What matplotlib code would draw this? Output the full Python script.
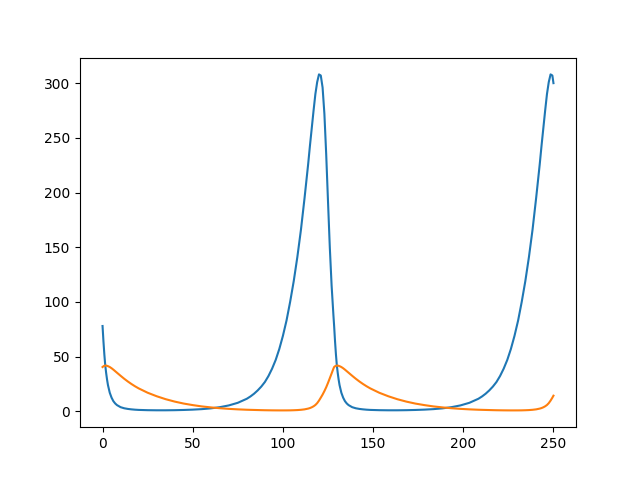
import matplotlib
matplotlib.use("Agg")
import matplotlib.pyplot as plt

# first cycle
x_cycle1 = [0, 0.5, 1, 1.5, 2, 2.5, 3, 4, 5, 6, 7, 8, 10, 12, 14, 16, 18, 20, 25, 30,
            35, 40, 45, 50, 55, 60, 65, 70, 75, 80, 82, 84, 86, 88, 90, 92, 94, 96, 98,
            100, 102, 104, 106, 108, 110, 112, 114, 115, 116, 117, 118, 119, 120, 121,
            122, 123, 124, 125, 126, 127, 128]
prey_cycle1 = [78, 64, 52, 42, 35, 29, 24, 17, 12.5, 9.3, 7.2, 5.7, 3.8, 2.8, 2.2, 1.8,
               1.5, 1.3, 1.05, 0.95, 0.95, 1.05, 1.25, 1.55, 2.0, 2.7, 3.8, 5.4, 7.8,
               11.5, 13.6, 16.1, 19.1, 22.6, 26.8, 32.3, 39, 47, 57, 69, 83, 100, 119,
               141, 166, 195, 226, 243, 259, 275, 290, 301, 308, 307, 296, 272, 235, 192,
               150, 115, 88]
pred_cycle1 = [40.5, 41.2, 41.6, 41.8, 41.8, 41.6, 41.3, 40.5, 39.4, 38.1, 36.7, 35.3,
               32.5, 29.8, 27.3, 25.0, 22.9, 21.0, 17.0, 13.8, 11.1, 8.9, 7.1, 5.7, 4.5,
               3.6, 2.85, 2.25, 1.8, 1.45, 1.35, 1.26, 1.17, 1.08, 1.0, 0.95, 0.9, 0.87,
               0.85, 0.85, 0.86, 0.9, 1.0, 1.15, 1.4, 1.8, 2.5, 3.0, 3.7, 4.6, 5.8, 7.5,
               9.8, 12.5, 15.3, 18.5, 22.0, 26.0, 30.3, 34.6, 39.0]

# second cycle
x_cycle2 = [128.4, 128.9, 129.4, 129.9, 130.4, 130.9, 131.4, 132.4, 133.4, 134.4, 135.4,
            136.4, 138.4, 140.4, 142.4, 144.4, 146.4, 148.4, 153.4, 158.4, 163.4, 168.4,
            173.4, 178.4, 183.4, 188.4, 193.4, 198.4, 203.4, 208.4, 210.4, 212.4, 214.4,
            216.4, 218.4, 220.4, 222.4, 224.4, 226.4, 228.4, 230.4, 232.4, 234.4, 236.4,
            238.4, 240.4, 242.4, 243.4, 244.4, 245.4, 246.4, 247.4, 248.4, 249.4, 250]
prey_cycle2 = [78, 64, 52, 42, 35, 29, 24, 17, 12.5, 9.3, 7.2, 5.7, 3.8, 2.8, 2.2, 1.8,
               1.5, 1.3, 1.05, 0.95, 0.95, 1.05, 1.25, 1.55, 2.0, 2.7, 3.8, 5.4, 7.8,
               11.5, 13.6, 16.1, 19.1, 22.6, 26.8, 32.3, 39, 47, 57, 69, 83, 100, 119,
               141, 166, 195, 226, 243, 259, 275, 290, 301, 308, 307, 300]
pred_cycle2 = [40.5, 41.2, 41.6, 41.8, 41.8, 41.6, 41.3, 40.5, 39.4, 38.1, 36.7, 35.3,
               32.5, 29.8, 27.3, 25.0, 22.9, 21.0, 17.0, 13.8, 11.1, 8.9, 7.1, 5.7, 4.5,
               3.6, 2.85, 2.25, 1.8, 1.45, 1.35, 1.26, 1.17, 1.08, 1.0, 0.95, 0.9, 0.87,
               0.85, 0.85, 0.86, 0.9, 1.0, 1.15, 1.4, 1.8, 2.5, 3.0, 3.7, 4.6, 5.8, 7.5,
               9.8, 12.5, 14.3]

t = x_cycle1 + x_cycle2
prey = prey_cycle1 + prey_cycle2
pred = pred_cycle1 + pred_cycle2

fig, ax = plt.subplots(figsize=(6.4, 4.8), dpi=100)
ax.plot(t, prey)
ax.plot(t, pred)
fig.savefig("out.png", dpi=100)
